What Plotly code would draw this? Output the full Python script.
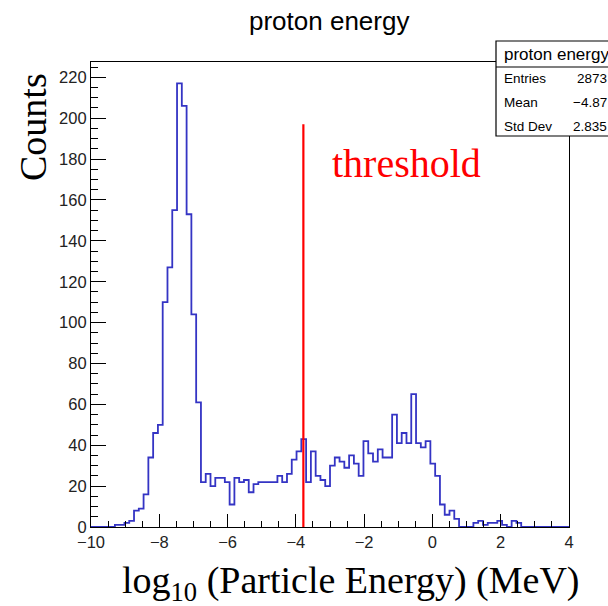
import numpy as np
import plotly.graph_objects as go

# ---- data ----
x_min, x_max, n_bins = -10.0, 4.0, 100
counts = [0, 0, 0, 0, 0, 1, 1, 2, 3, 8,
          9, 16, 34, 46, 50, 110, 127, 155, 217, 206,
          153, 104, 61, 22, 26, 20, 24, 24, 22, 11,
          24, 22, 23, 17, 21, 22, 22, 22, 22, 25,
          22, 26, 33, 37, 43, 22, 37, 25, 23, 20,
          30, 34, 32, 29, 35, 31, 25, 42, 36, 32,
          38, 34, 34, 55, 41, 46, 41, 65, 41, 39,
          42, 31, 25, 11, 6, 8, 4, 0, 0, 0,
          2, 3, 1, 2, 2, 3, 1, 0, 3, 2,
          0, 0, 0, 0, 0, 0, 0, 0, 0, 0]
threshold_x = -3.78
threshold_top = 197
stats_labels = ["Entries", "Mean", "Std Dev"]
stats_values = ["2873", "\u22124.87", "2.835"]
x_ticks = [-10, -8, -6, -4, -2, 0, 2, 4]
y_ticks = [0, 20, 40, 60, 80, 100, 120, 140, 160, 180, 200, 220]

# ---- geometry ----
W, H = 608, 606
L, R, T, B = 91, 39, 62, 79
pw, ph = W - L - R, H - T - B


def xp(px):
    return (px - L) / pw


def yp(py):
    return (H - B - py) / ph


edges = np.linspace(x_min, x_max, n_bins + 1)
step_y = list(counts) + [counts[-1]]

fig = go.Figure()
fig.add_trace(go.Scatter(
    x=edges, y=step_y, mode="lines", line_shape="hv",
    line=dict(color="#3434c4", width=1.8), showlegend=False, hoverinfo="skip"))
fig.add_trace(go.Scatter(
    x=[threshold_x, threshold_x], y=[0, threshold_top], mode="lines",
    line=dict(color="#ff0000", width=2.2), showlegend=False, hoverinfo="skip"))

tickfont = dict(family="Liberation Sans, Arial, sans-serif", size=16.5, color="#222")
fig.update_xaxes(
    range=[x_min, x_max], tickvals=x_ticks, showline=True, linecolor="black",
    linewidth=1.2, mirror=True, ticks="inside", ticklen=13, tickcolor="black",
    tickwidth=1.2, showgrid=False, zeroline=False, tickfont=tickfont,
    minor=dict(dtick=0.5, ticks="inside", ticklen=6, tickcolor="black", tickwidth=1.2, showgrid=False))
fig.update_yaxes(
    range=[0, 227.5], tickvals=y_ticks, showline=True, linecolor="black",
    linewidth=1.2, mirror=True, ticks="inside", ticklen=15, tickcolor="black",
    tickwidth=1.2, showgrid=False, zeroline=False, tickfont=tickfont,
    minor=dict(dtick=5, ticks="inside", ticklen=7, tickcolor="black", tickwidth=1.2, showgrid=False))

annotations = []
serif = "Liberation Serif, Times New Roman, serif"
sans = "Liberation Sans, Arial, sans-serif"
annotations.append(dict(text="proton energy", x=xp(329), y=yp(21), xref="paper", yref="paper",
                        showarrow=False, font=dict(family=sans, size=26, color="black"),
                        xanchor="center", yanchor="middle"))
annotations.append(dict(text="Counts", x=xp(33), y=yp(127), xref="paper", yref="paper",
                        showarrow=False, textangle=-90, font=dict(family=serif, size=38, color="black"),
                        xanchor="center", yanchor="middle"))
annotations.append(dict(text="log<sub>10</sub> (Particle Energy) (MeV)", x=xp(581), y=yp(583),
                        xref="paper", yref="paper", showarrow=False,
                        font=dict(family=serif, size=38, color="black"),
                        xanchor="right", yanchor="middle"))
annotations.append(dict(text="threshold", x=xp(330), y=yp(163), xref="paper", yref="paper",
                        showarrow=False, font=dict(family=serif, size=40, color="#ff0000"),
                        xanchor="left", yanchor="middle"))
# stats box
annotations.append(dict(text="proton energy", x=xp(502), y=yp(54), xref="paper", yref="paper",
                        showarrow=False, font=dict(family=sans, size=17, color="black"),
                        xanchor="left", yanchor="middle"))
for i, (lab, val) in enumerate(zip(stats_labels, stats_values)):
    yy = 78 + i * 24
    annotations.append(dict(text=lab, x=xp(502), y=yp(yy), xref="paper", yref="paper",
                            showarrow=False, font=dict(family=sans, size=13.5, color="black"),
                            xanchor="left", yanchor="middle"))
    annotations.append(dict(text=val, x=xp(609), y=yp(yy), xref="paper", yref="paper",
                            showarrow=False, font=dict(family=sans, size=13.5, color="black"),
                            xanchor="right", yanchor="middle"))

shapes = [
    dict(type="rect", xref="paper", yref="paper", x0=xp(496), x1=xp(640), y0=yp(136), y1=yp(41),
         line=dict(color="black", width=1.2), fillcolor="white", layer="above"),
    dict(type="line", xref="paper", yref="paper", x0=xp(496), x1=xp(640), y0=yp(67), y1=yp(67),
         line=dict(color="black", width=1.2), layer="above"),
]

fig.update_layout(
    width=W, height=H, margin=dict(l=L, r=R, t=T, b=B, pad=0),
    paper_bgcolor="white", plot_bgcolor="white",
    annotations=annotations, shapes=shapes, showlegend=False)

fig.write_html("out.html")
